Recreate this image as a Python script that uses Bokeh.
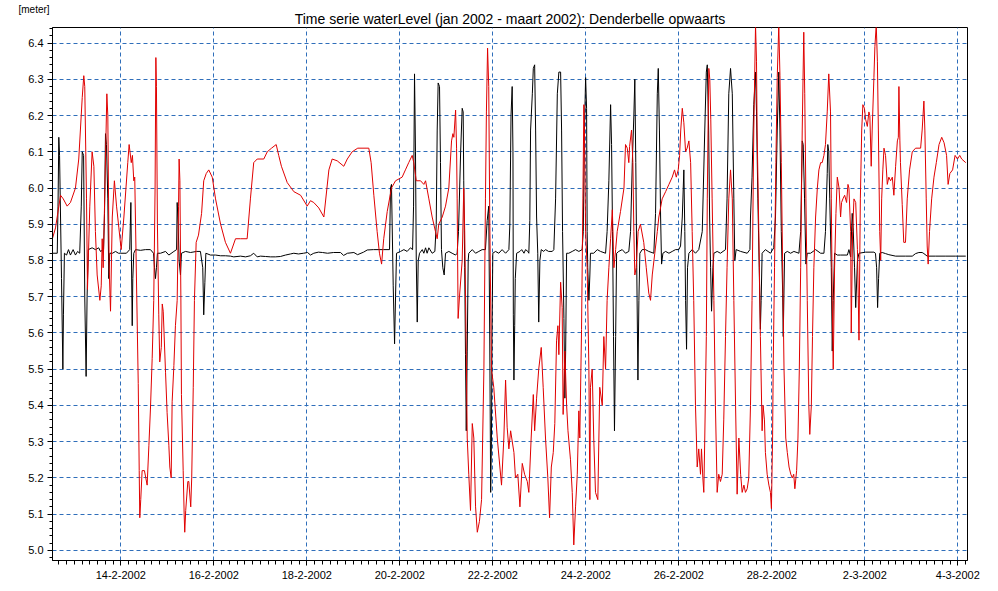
from bokeh.plotting import figure
from bokeh.models import Range1d, FixedTicker, NumeralTickFormatter, Title
from bokeh.embed import file_html
from bokeh.resources import INLINE

# ---------------- data ----------------
title_text = "Time serie waterLevel (jan 2002 - maart 2002): Denderbelle opwaarts"
unit_label = "[meter]"

# hours relative to 14-2-2002 00:00
x_tick_hours = [0, 48, 96, 144, 192, 240, 288, 336, 384, 432]
x_tick_labels = ["14-2-2002", "16-2-2002", "18-2-2002", "20-2-2002", "22-2-2002",
                 "24-2-2002", "26-2-2002", "28-2-2002", "2-3-2002", "4-3-2002"]
y_ticks = [5.0, 5.1, 5.2, 5.3, 5.4, 5.5, 5.6, 5.7, 5.8, 5.9, 6.0, 6.1, 6.2, 6.3, 6.4]

# red series: (hour, water level in meter)
red_points = [
    (-35.3, 5.86), (-33.7, 5.89), (-31.1, 5.98), (-29.7, 5.97), (-27.7, 5.95), (-26.0, 5.96),
    (-23.4, 6.00), (-21.7, 6.08), (-19.9, 6.25), (-19.1, 6.31), (-18.6, 6.28), (-17.7, 5.97),
    (-17.2, 5.72), (-16.0, 5.95), (-14.8, 6.10), (-13.9, 6.06), (-13.1, 5.88), (-12.2, 5.76),
    (-10.8, 5.69), (-10.1, 5.73), (-9.6, 5.86), (-9.1, 5.78), (-8.4, 5.95), (-7.2, 6.26),
    (-6.7, 6.20), (-6.0, 5.78), (-5.3, 5.66), (-4.4, 5.92), (-3.3, 6.02), (-2.2, 5.95),
    (-1.0, 5.89), (0.2, 5.83), (1.6, 5.92), (3.6, 6.07), (4.3, 6.12), (5.4, 6.07), (6.0, 6.09),
    (6.7, 6.02), (7.2, 6.03), (9.0, 5.46), (9.5, 5.22), (9.8, 5.09), (10.3, 5.14), (11.0, 5.22),
    (12.2, 5.22), (13.6, 5.18), (14.5, 5.29), (15.3, 5.39), (16.2, 5.53), (17.0, 5.69),
    (17.7, 6.00), (18.1, 6.36), (18.4, 6.28), (18.9, 5.90), (19.6, 5.65), (20.1, 5.52),
    (20.9, 5.56), (21.4, 5.68), (21.9, 5.66), (23.1, 5.49), (23.9, 5.38), (24.8, 5.29),
    (25.3, 5.23), (26.0, 5.20), (26.5, 5.41), (27.4, 5.51), (28.2, 5.62), (29.1, 5.69),
    (29.8, 5.95), (30.1, 6.08), (30.5, 6.02), (31.0, 5.70), (31.3, 5.43), (32.2, 5.22),
    (32.7, 5.10), (33.0, 5.05), (33.5, 5.11), (34.6, 5.19), (35.1, 5.19), (36.1, 5.12),
    (36.6, 5.20), (37.4, 5.45), (38.0, 5.69), (38.9, 5.85), (40.1, 5.87), (41.7, 5.93),
    (42.8, 6.02), (44.1, 6.04), (45.4, 6.05), (47.2, 6.03), (48.9, 5.97), (51.5, 5.90),
    (54.0, 5.85), (56.6, 5.82), (59.2, 5.86), (61.8, 5.86), (65.2, 5.86), (66.9, 5.97),
    (68.6, 6.07), (70.4, 6.08), (73.8, 6.08), (75.6, 6.10), (77.8, 6.11), (80.2, 6.12),
    (81.5, 6.09), (82.9, 6.06), (85.9, 6.015), (89.3, 5.99), (92.8, 5.98), (96.2, 5.95),
    (97.9, 5.965), (99.6, 5.96), (102.2, 5.945), (104.8, 5.92), (107.4, 6.05), (109.1, 6.08),
    (111.7, 6.075), (115.1, 6.06), (116.9, 6.08), (119.4, 6.10), (122.3, 6.11), (128.0, 6.11),
    (129.2, 6.07), (130.6, 5.98), (132.3, 5.88), (133.5, 5.82), (134.6, 5.79), (135.7, 5.86),
    (137.5, 5.935), (139.7, 6.00), (141.8, 6.02), (145.2, 6.03), (146.9, 6.05), (148.6, 6.07),
    (150.4, 6.09), (151.2, 6.07), (152.5, 6.02), (154.7, 6.02), (156.4, 6.01), (157.3, 6.02),
    (159.0, 5.97), (160.7, 5.92), (162.4, 5.88), (163.3, 5.86), (164.1, 5.90), (165.9, 5.92),
    (167.6, 5.95), (169.3, 6.00), (170.7, 6.13), (171.4, 6.15), (171.9, 6.14), (172.8, 6.215),
    (173.3, 6.11), (173.6, 5.97), (174.1, 5.64), (174.8, 5.70), (176.2, 5.80), (177.0, 6.00),
    (177.5, 5.88), (178.3, 5.55), (178.8, 5.31), (179.6, 5.21), (180.5, 5.11), (181.4, 5.35),
    (182.2, 5.31), (183.1, 5.12), (184.0, 5.05), (185.1, 5.08), (186.2, 5.14), (187.4, 5.50),
    (188.2, 5.97), (188.7, 6.21), (189.3, 6.386), (189.9, 6.28), (190.4, 5.93), (191.3, 5.50),
    (192.5, 5.45), (194.3, 5.31), (196.5, 5.18), (197.7, 5.31), (198.6, 5.47), (199.4, 5.34),
    (200.3, 5.28), (201.2, 5.33), (202.9, 5.27), (203.7, 5.20), (204.9, 5.21), (206.0, 5.12),
    (207.2, 5.24), (208.4, 5.21), (209.8, 5.19), (210.6, 5.16), (211.8, 5.31), (212.9, 5.43),
    (213.6, 5.33), (214.6, 5.42), (215.7, 5.50), (217.0, 5.56), (218.0, 5.45), (219.2, 5.31),
    (220.4, 5.20), (221.3, 5.09), (222.2, 5.23), (223.2, 5.27), (224.0, 5.35), (224.9, 5.58),
    (225.6, 5.62), (226.1, 5.54), (227.0, 5.74), (227.8, 5.67), (228.3, 5.375), (229.2, 5.55),
    (230.1, 5.40), (230.8, 5.33), (232.1, 5.25), (233.0, 5.16), (233.8, 5.015), (234.7, 5.12),
    (235.6, 5.21), (236.4, 5.385), (236.9, 5.31), (237.8, 5.61), (238.5, 5.97), (239.0, 6.23),
    (239.3, 6.16), (239.9, 5.88), (240.7, 5.78), (241.6, 5.50), (242.1, 5.14), (242.4, 5.45),
    (243.3, 5.50), (244.1, 5.31), (245.0, 5.16), (246.2, 5.14), (247.2, 5.45), (248.5, 5.40),
    (249.3, 5.59), (250.2, 5.50), (251.0, 5.69), (251.9, 5.78), (252.8, 5.86), (253.7, 5.94),
    (254.5, 5.78), (255.4, 5.83), (256.2, 5.88), (257.9, 5.935), (259.7, 6.00), (260.5, 6.12),
    (261.4, 6.11), (262.2, 6.07), (262.6, 6.115), (263.6, 6.16), (264.3, 6.07), (264.8, 5.88),
    (265.3, 5.76), (266.0, 5.78), (267.0, 5.88), (268.2, 5.90), (269.9, 5.85), (271.2, 5.78),
    (272.5, 5.71), (273.4, 5.69), (274.3, 5.76), (275.6, 5.82), (276.9, 5.88), (277.7, 5.92),
    (279.4, 5.97), (281.2, 5.99), (282.9, 6.01), (284.6, 6.03), (285.8, 6.05), (286.7, 6.03),
    (287.7, 6.05), (288.4, 6.09), (289.0, 6.16), (289.8, 6.22), (290.6, 6.18), (291.5, 6.10),
    (292.3, 6.11), (293.2, 6.13), (294.1, 6.07), (294.9, 5.88), (295.7, 5.69), (296.6, 5.40),
    (297.5, 5.23), (298.3, 5.28), (299.2, 5.21), (299.7, 5.28), (300.4, 5.20), (300.9, 5.16),
    (301.4, 5.31), (302.2, 5.59), (302.7, 5.97), (303.2, 6.21), (303.5, 6.33), (304.0, 6.30),
    (304.5, 6.19), (305.2, 5.97), (306.1, 5.69), (306.9, 5.40), (307.8, 5.16), (308.6, 5.21),
    (309.5, 5.19), (310.4, 5.21), (311.2, 5.36), (312.1, 5.59), (312.9, 5.78), (313.8, 5.97),
    (314.7, 6.05), (315.6, 5.97), (316.4, 5.69), (317.3, 5.40), (318.1, 5.155), (319.0, 5.31),
    (319.9, 5.21), (320.7, 5.16), (321.6, 5.18), (322.4, 5.16), (323.3, 5.17), (324.1, 5.20),
    (325.0, 5.40), (325.8, 5.69), (326.7, 6.16), (327.6, 6.45), (328.1, 6.35), (328.4, 6.16),
    (329.3, 5.88), (330.1, 5.59), (331.0, 5.33), (331.5, 5.40), (332.2, 5.36), (332.7, 5.27),
    (333.6, 5.21), (334.5, 5.18), (335.3, 5.16), (335.8, 5.115), (336.4, 5.31), (336.7, 5.50),
    (337.4, 5.78), (338.1, 6.07), (338.8, 6.305), (339.6, 6.45), (340.2, 6.31), (340.9, 6.07),
    (341.6, 5.78), (342.3, 5.50), (343.2, 5.31), (344.0, 5.27), (344.9, 5.23), (345.8, 5.21),
    (346.6, 5.20), (347.3, 5.21), (347.9, 5.17), (348.8, 5.22), (349.5, 5.31), (350.2, 5.50),
    (350.9, 5.78), (351.7, 6.16), (352.5, 6.43), (353.0, 6.26), (353.6, 5.97), (354.3, 5.69),
    (355.1, 5.40), (355.6, 5.32), (356.4, 5.40), (357.0, 5.59), (357.7, 5.78), (358.6, 5.92),
    (359.5, 6.00), (360.3, 6.05), (361.2, 6.07), (362.0, 6.07), (362.9, 6.09), (363.7, 6.12),
    (364.6, 6.21), (365.4, 6.315), (366.3, 6.21), (366.7, 5.97), (367.2, 5.69), (367.7, 5.50),
    (368.4, 5.78), (369.1, 5.93), (369.8, 6.03), (370.7, 6.00), (371.5, 5.92), (372.0, 5.96),
    (372.7, 5.97), (373.6, 5.98), (374.6, 5.96), (375.3, 6.01), (375.8, 6.00), (376.7, 5.88),
    (377.0, 5.60), (377.7, 5.88), (378.4, 5.97), (379.3, 5.96), (380.2, 5.83), (381.0, 5.58),
    (381.7, 5.97), (382.4, 6.16), (383.0, 6.23), (383.8, 6.22), (384.4, 6.19), (385.3, 6.17),
    (386.1, 6.21), (386.6, 6.20), (387.3, 6.06), (387.8, 6.16), (388.7, 6.305), (389.2, 6.39),
    (389.9, 6.45), (390.5, 6.35), (391.0, 6.16), (391.7, 5.88), (392.2, 5.80), (392.7, 5.97),
    (393.3, 6.05), (393.9, 6.11), (394.7, 6.09), (395.6, 6.01), (396.4, 6.03), (397.3, 6.02),
    (398.2, 6.03), (399.0, 5.98), (399.9, 6.06), (400.8, 6.13), (401.3, 6.14), (401.6, 6.28),
    (402.1, 6.13), (402.4, 6.07), (403.3, 5.955), (404.1, 5.85), (405.0, 5.85), (405.9, 5.97),
    (407.1, 6.05), (408.5, 6.10), (410.2, 6.11), (412.8, 6.11), (413.6, 6.16), (414.5, 6.24),
    (415.0, 6.16), (415.7, 5.97), (416.2, 5.84), (416.7, 5.79), (417.4, 5.88), (418.5, 5.97),
    (419.7, 6.03), (420.9, 6.07), (422.3, 6.12), (423.7, 6.14), (424.9, 6.125), (426.2, 6.09),
    (427.0, 6.01), (427.9, 6.04), (429.3, 6.05), (430.6, 6.09), (431.8, 6.08), (433.0, 6.09),
    (434.0, 6.08), (436.1, 6.07),
]

# black series: (hour, water level in meter)
black_points = [
    (-35.3, 5.82), (-32.8, 5.82), (-32.4, 5.95), (-32.0, 6.14), (-31.6, 6.09), (-31.1, 5.92),
    (-30.6, 5.75), (-29.9, 5.50), (-29.6, 5.65), (-29.1, 5.82), (-28.0, 5.815), (-27.0, 5.83),
    (-26.0, 5.815), (-24.6, 5.83), (-23.4, 5.815), (-22.3, 5.825), (-21.2, 5.82), (-20.4, 5.95),
    (-19.9, 6.10), (-19.2, 6.09), (-18.6, 5.70), (-17.9, 5.48), (-17.4, 5.70), (-16.8, 5.83),
    (-14.8, 5.835), (-13.1, 5.83), (-11.4, 5.835), (-10.5, 5.825), (-8.9, 5.83), (-8.4, 5.93),
    (-7.9, 6.15), (-7.4, 6.12), (-6.7, 5.97), (-6.2, 5.75), (-5.7, 5.82), (-4.3, 5.82),
    (-2.7, 5.825), (-1.2, 5.82), (-0.2, 5.82), (2.9, 5.82), (4.6, 5.83), (5.2, 5.96), (5.5, 5.80),
    (5.9, 5.62), (6.2, 5.75), (6.7, 5.82), (7.6, 5.83), (10.2, 5.828), (12.7, 5.83), (15.3, 5.83),
    (16.9, 5.82), (17.4, 5.78), (17.9, 5.75), (18.4, 5.78), (18.9, 5.82), (20.5, 5.82),
    (23.1, 5.825), (24.8, 5.815), (27.4, 5.825), (28.8, 5.83), (29.1, 5.96), (29.6, 5.90),
    (30.1, 5.80), (30.8, 5.76), (31.3, 5.82), (33.4, 5.825), (36.0, 5.822), (39.1, 5.825),
    (41.1, 5.825), (42.3, 5.78), (42.8, 5.65), (43.4, 5.74), (43.9, 5.82), (46.3, 5.815),
    (48.9, 5.815), (51.5, 5.813), (54.0, 5.813), (56.6, 5.812), (58.3, 5.81), (61.8, 5.812),
    (64.4, 5.81), (66.9, 5.813), (68.6, 5.82), (70.4, 5.81), (72.1, 5.812), (74.7, 5.811),
    (77.3, 5.81), (79.8, 5.81), (82.4, 5.811), (85.0, 5.815), (87.6, 5.818), (89.3, 5.82),
    (91.7, 5.818), (94.3, 5.82), (96.4, 5.822), (97.9, 5.815), (99.6, 5.82), (102.0, 5.823),
    (104.1, 5.822), (106.7, 5.82), (109.8, 5.822), (113.4, 5.822), (115.0, 5.814), (117.0, 5.82),
    (120.3, 5.822), (122.2, 5.816), (125.3, 5.823), (127.2, 5.829), (130.4, 5.83), (135.6, 5.83),
    (138.7, 5.83), (139.2, 6.00), (139.7, 6.01), (140.6, 5.73), (141.3, 5.57), (141.8, 5.70),
    (142.3, 5.82), (144.4, 5.825), (146.1, 5.83), (147.8, 5.825), (149.5, 5.835), (150.6, 5.83),
    (151.1, 5.95), (151.6, 6.315), (152.1, 6.10), (152.5, 5.80), (153.0, 5.63), (153.5, 5.80),
    (154.2, 5.82), (155.6, 5.83), (156.4, 5.82), (157.3, 5.835), (158.1, 5.82), (159.0, 5.835),
    (160.7, 5.82), (162.1, 5.825), (162.8, 5.90), (163.3, 6.16), (163.8, 6.29), (164.5, 6.28),
    (165.0, 6.07), (165.5, 5.83), (166.2, 5.78), (166.9, 5.76), (167.6, 5.82), (169.3, 5.825),
    (171.0, 5.82), (172.8, 5.815), (173.6, 5.82), (174.3, 5.88), (175.4, 6.10), (176.2, 6.22),
    (176.7, 6.21), (177.0, 6.02), (177.5, 5.78), (177.9, 5.54), (178.3, 5.33), (178.8, 5.55),
    (179.3, 5.80), (179.6, 5.82), (181.4, 5.83), (183.1, 5.82), (184.8, 5.825), (186.5, 5.83),
    (188.2, 5.83), (189.1, 5.91), (189.9, 5.95), (190.4, 5.60), (190.9, 5.16), (191.3, 5.30),
    (191.6, 5.60), (192.0, 5.82), (193.4, 5.825), (195.1, 5.82), (196.8, 5.83), (198.6, 5.82),
    (200.3, 5.83), (200.8, 5.90), (201.4, 6.20), (202.0, 6.28), (202.4, 6.10), (202.6, 5.65),
    (202.9, 5.47), (203.3, 5.62), (203.6, 5.75), (204.3, 5.82), (206.0, 5.825), (206.9, 5.83),
    (208.1, 5.82), (208.9, 5.83), (210.1, 5.825), (210.6, 5.82), (211.1, 5.91), (211.5, 6.16),
    (212.4, 6.26), (212.9, 6.33), (213.6, 6.34), (214.1, 6.16), (214.6, 5.92), (215.2, 5.82),
    (215.7, 5.63), (216.3, 5.80), (217.0, 5.83), (218.3, 5.825), (219.2, 5.83), (220.8, 5.825),
    (222.7, 5.825), (223.5, 5.83), (224.4, 5.97), (225.3, 6.26), (226.1, 6.32), (227.0, 6.32),
    (227.5, 6.16), (228.0, 5.88), (228.7, 5.64), (229.2, 5.42), (229.6, 5.55), (230.1, 5.82),
    (231.2, 5.82), (233.0, 5.825), (234.7, 5.83), (236.4, 5.825), (238.1, 5.83), (238.7, 5.88),
    (239.3, 6.16), (239.9, 6.305), (240.4, 6.22), (240.7, 5.88), (241.0, 5.78), (241.6, 5.69),
    (242.1, 5.76), (242.4, 5.82), (244.1, 5.82), (245.9, 5.83), (247.6, 5.825), (250.2, 5.82),
    (251.0, 5.88), (251.9, 6.02), (252.8, 6.23), (253.3, 6.12), (253.8, 5.88), (254.3, 5.59),
    (254.8, 5.33), (255.4, 5.59), (255.9, 5.82), (257.0, 5.825), (258.8, 5.83), (260.5, 5.82),
    (262.2, 5.825), (263.1, 5.88), (264.0, 6.07), (264.8, 6.20), (265.3, 6.30), (265.8, 6.07),
    (266.3, 5.78), (266.9, 5.47), (267.4, 5.69), (267.9, 5.82), (269.1, 5.83), (270.8, 5.83),
    (272.5, 5.825), (275.1, 5.82), (276.0, 5.93), (276.9, 6.26), (277.4, 6.33), (278.0, 6.16),
    (278.6, 5.92), (279.1, 5.79), (279.8, 5.82), (281.2, 5.825), (282.9, 5.82), (284.6, 5.825),
    (286.3, 5.83), (288.0, 5.83), (288.9, 5.84), (289.8, 5.92), (290.6, 6.05), (291.1, 5.88),
    (291.5, 5.69), (292.0, 5.555), (292.5, 5.78), (293.2, 5.82), (294.9, 5.83), (296.6, 5.82),
    (298.3, 5.83), (300.1, 5.88), (301.4, 6.16), (302.2, 6.32), (302.7, 6.34), (303.4, 6.16),
    (303.9, 5.92), (304.4, 5.78), (304.9, 5.66), (305.6, 5.78), (306.1, 5.82), (307.8, 5.825),
    (309.5, 5.82), (312.1, 5.83), (312.9, 5.97), (313.8, 6.26), (314.7, 6.33), (315.6, 6.26),
    (316.4, 5.97), (316.9, 5.80), (317.6, 5.83), (319.9, 5.825), (323.3, 5.82), (324.7, 5.83),
    (325.0, 5.92), (325.8, 6.03), (326.7, 6.23), (327.6, 6.32), (328.1, 6.21), (328.8, 5.97),
    (329.5, 5.78), (330.1, 5.61), (330.5, 5.69), (331.0, 5.82), (332.7, 5.83), (335.3, 5.82),
    (337.0, 5.835), (337.9, 5.92), (338.8, 6.16), (339.6, 6.32), (340.2, 6.16), (340.9, 5.88),
    (341.6, 5.71), (341.9, 5.59), (342.6, 5.82), (344.0, 5.825), (345.7, 5.82), (347.4, 5.825),
    (350.0, 5.82), (350.9, 5.88), (351.7, 6.13), (352.2, 6.12), (352.9, 5.97), (353.6, 5.79),
    (354.3, 5.82), (356.0, 5.82), (358.6, 5.83), (361.2, 5.82), (362.9, 5.82), (363.7, 5.88),
    (364.6, 6.04), (364.9, 6.12), (365.4, 6.10), (365.9, 5.97), (366.7, 5.78), (367.2, 5.55),
    (367.7, 5.69), (368.4, 5.82), (369.8, 5.815), (371.5, 5.815), (375.0, 5.815), (375.8, 5.83),
    (376.7, 5.81), (377.5, 5.93), (378.0, 5.89), (378.7, 5.78), (379.3, 5.67), (380.2, 5.80),
    (381.0, 5.82), (384.4, 5.823), (388.7, 5.823), (389.5, 5.82), (390.1, 5.78), (390.6, 5.67),
    (391.1, 5.75), (391.7, 5.82), (393.0, 5.822), (394.7, 5.819), (396.4, 5.816), (399.9, 5.812),
    (405.0, 5.812), (408.5, 5.812), (410.2, 5.819), (411.9, 5.822), (413.6, 5.822), (414.5, 5.819),
    (416.2, 5.812), (420.4, 5.812), (425.5, 5.812), (430.7, 5.812), (436.1, 5.812),
]

red_hours = [h for h, _ in red_points]
red_level = [v for _, v in red_points]
black_hours = [h for h, _ in black_points]
black_level = [v for _, v in black_points]

# ---------------- figure ----------------
FONT = "Liberation Sans"
x_start, x_end = -35.25, 437.0
y_start, y_end = 4.972, 6.443

p = figure(width=990, height=586, output_backend="svg", toolbar_location=None, tools="",
           x_range=Range1d(x_start, x_end), y_range=Range1d(y_start, y_end),
           min_border_left=52, min_border_right=23, min_border_top=27, min_border_bottom=26,
           title=unit_label)

p.background_fill_color = "white"
p.border_fill_color = "white"
p.outline_line_color = "black"
p.outline_line_width = 1
p.outline_line_alpha = 1.0

# outer title line: the unit label at the top left
p.title.align = "left"
p.title.offset = -34
p.title.standoff = -15
p.title.text_font = FONT
p.title.text_font_size = "10px"
p.title.text_font_style = "normal"
p.title.text_color = "black"

# inner title line: the chart title, centred over the frame
p.add_layout(Title(text=title_text, align="center", standoff=2,
                   text_font=FONT, text_font_size="14px", text_font_style="normal",
                   text_color="black"), "above")

x_minor = list(range(-32, 437, 4))
y_minor = [round(4.98 + 0.02 * i, 2) for i in range(74)]

p.xaxis.ticker = FixedTicker(ticks=x_tick_hours, minor_ticks=x_minor)
p.xaxis.major_label_overrides = {h: lab for h, lab in zip(x_tick_hours, x_tick_labels)}
p.yaxis.ticker = FixedTicker(ticks=y_ticks, minor_ticks=y_minor)
p.yaxis.formatter = NumeralTickFormatter(format="0.0")

for ax in (p.xaxis, p.yaxis):
    ax.axis_line_color = "black"
    ax.major_tick_line_color = "black"
    ax.minor_tick_line_color = "black"
    ax.major_tick_in = 0
    ax.minor_tick_in = 0
    ax.major_label_text_font = FONT
    ax.major_label_text_font_size = "11px"
    ax.major_label_text_color = "black"
p.xaxis.major_tick_out = 5
p.xaxis.minor_tick_out = 4
p.xaxis.major_label_standoff = 5
p.yaxis.major_tick_out = 5
p.yaxis.minor_tick_out = 3
p.yaxis.major_label_standoff = 4

p.xgrid.ticker = FixedTicker(ticks=x_tick_hours)
p.ygrid.ticker = FixedTicker(ticks=y_ticks)
p.grid.grid_line_color = "#2F6EBA"
p.grid.grid_line_dash = "4 3"
p.grid.grid_line_width = 1
p.grid.grid_line_alpha = 1.0

p.line(black_hours, black_level, line_color="black", line_width=1)
p.line(red_hours, red_level, line_color="#E00000", line_width=1)

open("out.html", "w").write(file_html(p, INLINE))
